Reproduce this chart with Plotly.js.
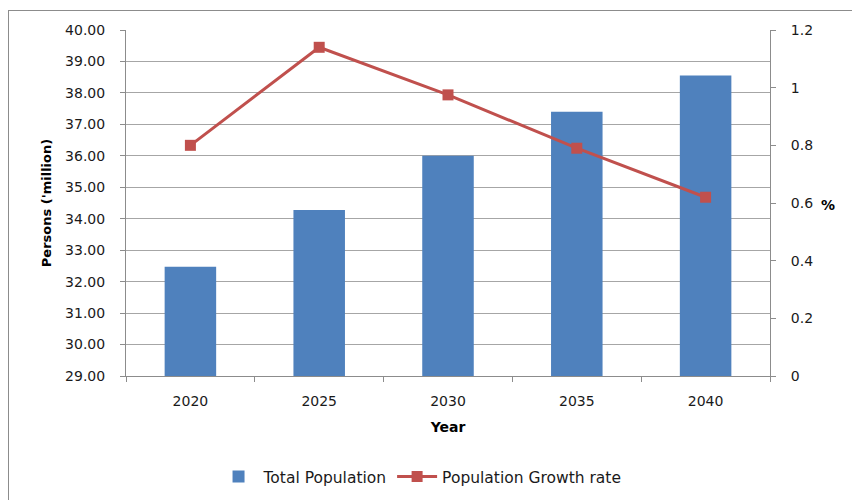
<!DOCTYPE html>
<html>
<head>
<meta charset="utf-8">
<script src="https://cdn.plot.ly/plotly-3.0.1.min.js"></script>
<style>
html,body{margin:0;padding:0;background:#fff;}
#frame{position:absolute;left:8px;top:10px;width:900px;height:600px;border:1px solid #8c8c8c;box-sizing:border-box;}
#chart{position:absolute;left:0;top:0;width:852px;height:500px;}
</style>
</head>
<body>
<div id="frame"></div>
<div id="chart"></div>
<script>
const years = ['2020', '2025', '2030', '2035', '2040'];
const totalPopulation = [32.47, 34.28, 36.0, 37.40, 38.55];
const growthRate = [0.80, 1.14, 0.975, 0.79, 0.62];
const leftTicks = [29, 30, 31, 32, 33, 34, 35, 36, 37, 38, 39, 40];
const rightTicks = [0, 0.2, 0.4, 0.6, 0.8, 1, 1.2];

const font = 'DejaVu Sans, Verdana, sans-serif';

const traces = [
  {
    type: 'bar', name: 'Total Population', x: years, y: totalPopulation,
    marker: {color: '#4F81BD'}, yaxis: 'y'
  },
  {
    type: 'scatter', mode: 'lines+markers', name: 'Population Growth rate',
    x: years, y: growthRate, yaxis: 'y2',
    line: {color: '#C0504D', width: 3},
    marker: {symbol: 'square', size: 11, color: '#C0504D'}
  }
];

const layout = {
  width: 852, height: 500,
  margin: {l: 126, r: 82, t: 30, b: 124},
  paper_bgcolor: 'rgba(0,0,0,0)', plot_bgcolor: 'rgba(0,0,0,0)',
  font: {family: font, size: 14, color: '#1a1a1a'},
  bargap: 0.6,
  showlegend: true,
  legend: {orientation: 'h', x: 0.493, xanchor: 'center', xref: 'container',
           y: 0.046, yanchor: 'middle', yref: 'container',
           font: {size: 15.5, color: '#1a1a1a'}, itemwidth: 40, traceorder: 'normal'},
  xaxis: {
    type: 'category', tickson: 'boundaries', ticks: 'outside', ticklen: 5,
    tickcolor: '#8c8c8c', showline: true, linecolor: '#8c8c8c', linewidth: 1,
    showgrid: false, tickfont: {size: 14}, ticklabelstandoff: 12, automargin: false,
    title: {text: 'Year', font: {size: 14, color: '#000', weight: 'bold'}, standoff: 14}
  },
  yaxis: {
    range: [29, 40], tickvals: leftTicks, tickformat: '.2f',
    ticks: 'outside', ticklen: 5, tickcolor: '#8c8c8c',
    showline: true, linecolor: '#8c8c8c', linewidth: 1,
    showgrid: true, gridcolor: '#a6a6a6', gridwidth: 1, zeroline: false,
    ticklabelstandoff: 12, tickfont: {size: 14}, automargin: false,
    title: {text: "Persons ('million)", font: {size: 13, color: '#000', weight: 'bold'}, standoff: 10}
  },
  yaxis2: {
    overlaying: 'y', side: 'right', range: [0, 1.2], tickvals: rightTicks,
    ticktext: rightTicks.map(v => String(v)),
    ticks: 'outside', ticklen: 5, tickcolor: '#8c8c8c',
    showline: true, linecolor: '#8c8c8c', linewidth: 1, automargin: false,
    showgrid: false, zeroline: false, ticklabelstandoff: 12, tickfont: {size: 14}
  },
  annotations: [
    {text: '%', xref: 'paper', yref: 'paper', x: 1.076, y: 0.495, xanchor: 'left',
     showarrow: false, font: {size: 14, color: '#000', weight: 'bold'}}
  ]
};

Plotly.newPlot('chart', traces, layout, {displayModeBar: false, staticPlot: true});
</script>
</body>
</html>
